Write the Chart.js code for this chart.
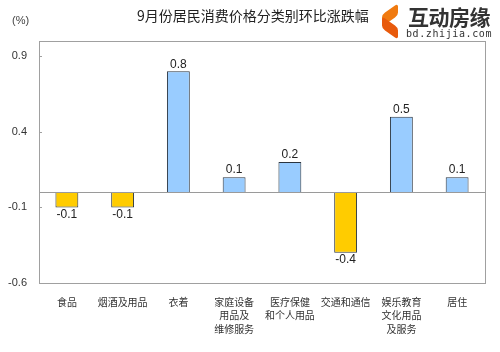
<!DOCTYPE html>
<html><head><meta charset="utf-8">
<script src="https://cdn.jsdelivr.net/npm/chart.js@4/dist/chart.umd.min.js"></script>
<style>
html,body{margin:0;padding:0;background:#fff;}
#wrap{position:relative;width:500px;height:352px;overflow:hidden;}
#c{position:absolute;left:0;top:0;}
.t{position:absolute;font-family:"Noto Sans CJK SC",sans-serif;color:#222;white-space:nowrap;}
</style></head><body>
<div id="wrap">
<canvas id="c" width="500" height="352"></canvas>
<div class="t" style="left:137px;top:6px;font-size:14px;line-height:18px;">9月份居民消费价格分类别环比涨跌幅</div>
<div class="t" style="left:12px;top:12px;font-size:11px;line-height:16px;font-family:Arial,'Liberation Sans',sans-serif;color:#444;">(%)</div>
<div style="position:absolute;left:376px;top:4px;width:124px;height:36px;background:#fff;">
  <div style="position:absolute;left:6px;top:5px;width:16px;height:12px;background:#f07a10;transform:skewY(-35deg);border-radius:3px;"></div>
  <div style="position:absolute;left:6px;top:18px;width:16px;height:12px;background:#e85a0c;transform:skewY(35deg);border-radius:3px;"></div>
  <div class="t" style="left:32px;top:0px;font-size:21px;line-height:24px;font-weight:bold;color:#333;letter-spacing:-0.5px;">互动房缘</div>
  <div class="t" style="left:30px;top:24px;font-size:10px;line-height:12px;font-family:'DejaVu Sans Mono',monospace;color:#333;letter-spacing:0.6px;">bd.zhijia.com</div>
</div>
</div>
<script>
const categories = [['食品'],['烟酒及用品'],['衣着'],['家庭设备','用品及','维修服务'],['医疗保健','和个人用品'],['交通和通信'],['娱乐教育','文化用品','及服务'],['居住']];
const values = [-0.1,-0.1,0.8,0.1,0.2,-0.4,0.5,0.1];
const yTicks = [-0.6,-0.1,0.4,0.9];
const valueLabels = ['-0.1','-0.1','0.8','0.1','0.2','-0.4','0.5','0.1'];

const decor = {
  id:'decor',
  afterDatasetsDraw(chart){
    const {ctx, chartArea:a, scales:{x,y}} = chart;
    ctx.save();
    // zero line
    const y0 = Math.round(y.getPixelForValue(0))+0.5;
    ctx.strokeStyle='#9a9a9a'; ctx.lineWidth=1;
    ctx.beginPath(); ctx.moveTo(a.left,y0); ctx.lineTo(a.right,y0); ctx.stroke();
    // border
    ctx.strokeStyle='#a0a0a0';
    ctx.strokeRect(Math.round(a.left)+0.5, Math.round(a.top)+0.5, Math.round(a.right-a.left), Math.round(a.bottom-a.top));
    // tick marks
    yTicks.forEach(v=>{
      const py=Math.round(y.getPixelForValue(v))+0.5;
      ctx.beginPath(); ctx.moveTo(a.left,py); ctx.lineTo(a.left+3,py); ctx.stroke();
    });
    // value labels
    ctx.fillStyle='#222';
    ctx.font='12px Arial, "Liberation Sans", sans-serif';
    ctx.textAlign='center';
    const meta = chart.getDatasetMeta(0);
    meta.data.forEach((bar,i)=>{
      const v=values[i];
      if(v>=0){ ctx.textBaseline='bottom'; ctx.fillText(valueLabels[i], bar.x, bar.y-1); }
      else { ctx.textBaseline='top'; ctx.fillText(valueLabels[i], bar.x, bar.y+1); }
    });
    ctx.restore();
  }
};

new Chart(document.getElementById('c'),{
  type:'bar',
  data:{labels:categories,datasets:[{
    data:values,
    backgroundColor:values.map(v=>v<0?'#ffcc00':'#99ccff'),
    borderColor:'#2a3440',
    borderWidth:1,
    categoryPercentage:1,
    barPercentage:0.41
  }]},
  options:{
    responsive:false,animation:false,devicePixelRatio:1,
    layout:{padding:{left:0,top:41,right:15,bottom:0}},
    plugins:{legend:{display:false},tooltip:{enabled:false}},
    scales:{
      x:{
        grid:{display:false,drawTicks:false},
        border:{display:false},
        ticks:{padding:12,color:'#333',font:{family:'"Noto Sans CJK SC", sans-serif',size:10,lineHeight:1.37},maxRotation:0,autoSkip:false},
        afterFit(s){s.height=69;}
      },
      y:{
        min:-0.6,max:1.0,
        grid:{display:false,drawTicks:false},
        border:{display:false},
        afterBuildTicks(s){s.ticks=yTicks.map(v=>({value:v}));},
        ticks:{padding:12,color:'#333',font:{family:'Arial, "Liberation Sans", sans-serif',size:11},callback:(v)=>v.toFixed(1)},
        afterFit(s){s.width=39;}
      }
    }
  },
  plugins:[decor]
});
</script>
</body></html>
